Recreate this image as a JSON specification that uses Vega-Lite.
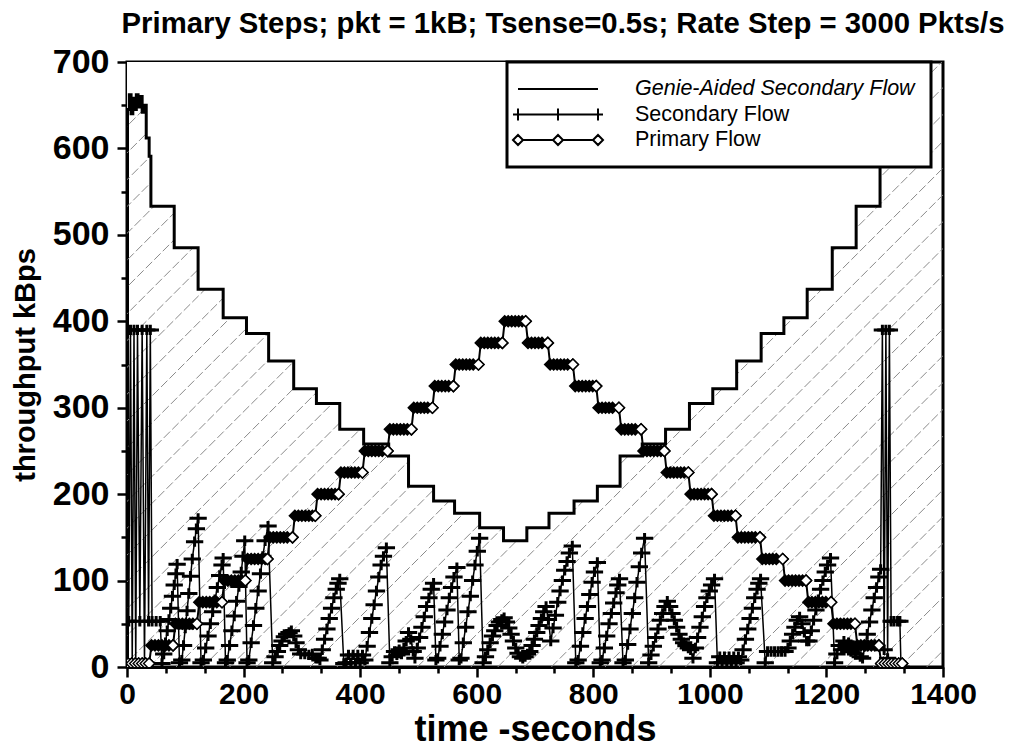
{
  "$schema": "https://vega.github.io/schema/vega-lite/v6.json",
  "width": 816,
  "height": 605,
  "autosize": {"type": "none"},
  "padding": {"left": 127, "top": 62, "right": 68, "bottom": 83},
  "background": "white",
  "title": {"text": "Primary Steps; pkt = 1kB; Tsense=0.5s; Rate Step = 3000 Pkts/s", "font": "Liberation Sans", "fontSize": 29.3, "fontWeight": "bold", "color": "black", "anchor": "middle", "frame": "group", "dx": 28, "offset": 6},
  "resolve": {"axis": {"x": "independent"}},
  "config": {
    "view": {"stroke": "black", "strokeWidth": 3},
    "axis": {"domainColor": "black", "domainWidth": 3, "tickColor": "black", "tickWidth": 2.5, "grid": false, "labelOverlap": false, "labelFont": "Liberation Sans", "labelFontWeight": "bold", "labelFontSize": 31, "labelColor": "black", "titleFont": "Liberation Sans", "titleFontWeight": "bold", "titleFontSize": 30, "titleColor": "black"},
    "legend": {"strokeColor": "black", "strokeWidth": 3, "fillColor": "white"}
  },
  "datasets": {
    "genie": [
      {"t":0,"g":645},{"t":4,"g":662},{"t":7,"g":640},{"t":10,"g":658},{"t":13,"g":645},{"t":16,"g":662},{"t":19,"g":648},{"t":22,"g":660},{"t":26,"g":642},{"t":30,"g":650},{"t":33,"g":612},{"t":38,"g":591},
      {"t":41,"g":533},{"t":81,"g":485},{"t":122,"g":437},{"t":165,"g":404},{"t":205,"g":386},{"t":243,"g":354},{"t":286,"g":322},{"t":325,"g":305},{"t":365,"g":275},{"t":406,"g":258},{"t":449,"g":244},{"t":483,"g":209},{"t":526,"g":192},{"t":562,"g":178},{"t":605,"g":161},{"t":646,"g":146},
      {"t":686,"g":161},{"t":724,"g":178},{"t":767,"g":192},{"t":807,"g":209},{"t":846,"g":244},{"t":884,"g":258},{"t":924,"g":275},{"t":965,"g":305},{"t":1005,"g":322},{"t":1046,"g":354},{"t":1088,"g":386},{"t":1127,"g":404},{"t":1167,"g":437},{"t":1210,"g":485},{"t":1251,"g":533},{"t":1292,"g":600},{"t":1300,"g":650},{"t":1340,"g":700},{"t":1345,"g":700}
    ],
    "primary": [
      {"t":2,"p":4,"e":1},{"t":8,"p":4,"e":1},{"t":14,"p":4,"e":1},{"t":20,"p":4,"e":1},{"t":26,"p":4,"e":1},{"t":32,"p":4,"e":1},{"t":38,"p":4,"e":1},
      {"t":42,"p":25},{"t":48,"p":25},{"t":54,"p":25},{"t":60,"p":25},{"t":66,"p":25},{"t":72,"p":25},{"t":79,"p":25,"e":1},
      {"t":83,"p":50},{"t":89,"p":50},{"t":95,"p":50},{"t":101,"p":50},{"t":107,"p":50},{"t":113,"p":50},{"t":120,"p":50,"e":1},
      {"t":124,"p":75},{"t":130,"p":75},{"t":136,"p":75},{"t":142,"p":75},{"t":148,"p":75},{"t":154,"p":75},{"t":163,"p":75,"e":1},
      {"t":167,"p":100},{"t":173,"p":100},{"t":179,"p":100},{"t":185,"p":100},{"t":191,"p":100},{"t":197,"p":100},{"t":203,"p":100,"e":1},
      {"t":207,"p":125},{"t":213,"p":125},{"t":219,"p":125},{"t":225,"p":125},{"t":231,"p":125},{"t":237,"p":125},{"t":241,"p":125,"e":1},
      {"t":245,"p":150},{"t":251,"p":150},{"t":257,"p":150},{"t":263,"p":150},{"t":269,"p":150},{"t":275,"p":150},{"t":284,"p":150,"e":1},
      {"t":288,"p":175},{"t":294,"p":175},{"t":300,"p":175},{"t":306,"p":175},{"t":312,"p":175},{"t":318,"p":175},{"t":323,"p":175,"e":1},
      {"t":327,"p":200},{"t":333,"p":200},{"t":339,"p":200},{"t":345,"p":200},{"t":351,"p":200},{"t":357,"p":200},{"t":363,"p":200,"e":1},
      {"t":367,"p":225},{"t":373,"p":225},{"t":379,"p":225},{"t":385,"p":225},{"t":391,"p":225},{"t":397,"p":225},{"t":404,"p":225,"e":1},
      {"t":408,"p":250},{"t":414,"p":250},{"t":420,"p":250},{"t":426,"p":250},{"t":432,"p":250},{"t":438,"p":250},{"t":447,"p":250,"e":1},
      {"t":451,"p":275},{"t":457,"p":275},{"t":463,"p":275},{"t":469,"p":275},{"t":475,"p":275},{"t":481,"p":275},{"t":488,"p":275,"e":1},
      {"t":492,"p":300},{"t":498,"p":300},{"t":504,"p":300},{"t":510,"p":300},{"t":516,"p":300},{"t":524,"p":300,"e":1},
      {"t":528,"p":325},{"t":534,"p":325},{"t":540,"p":325},{"t":546,"p":325},{"t":552,"p":325},{"t":560,"p":325,"e":1},
      {"t":564,"p":350},{"t":570,"p":350},{"t":576,"p":350},{"t":582,"p":350},{"t":588,"p":350},{"t":594,"p":350},{"t":603,"p":350,"e":1},
      {"t":607,"p":375},{"t":613,"p":375},{"t":619,"p":375},{"t":625,"p":375},{"t":631,"p":375},{"t":637,"p":375},{"t":644,"p":375,"e":1},
      {"t":648,"p":400},{"t":654,"p":400},{"t":660,"p":400},{"t":666,"p":400},{"t":672,"p":400},{"t":678,"p":400},{"t":684,"p":400,"e":1},
      {"t":688,"p":375},{"t":694,"p":375},{"t":700,"p":375},{"t":706,"p":375},{"t":712,"p":375},{"t":722,"p":375,"e":1},
      {"t":726,"p":350},{"t":732,"p":350},{"t":738,"p":350},{"t":744,"p":350},{"t":750,"p":350},{"t":756,"p":350},{"t":765,"p":350,"e":1},
      {"t":769,"p":325},{"t":775,"p":325},{"t":781,"p":325},{"t":787,"p":325},{"t":793,"p":325},{"t":799,"p":325},{"t":805,"p":325,"e":1},
      {"t":809,"p":300},{"t":815,"p":300},{"t":821,"p":300},{"t":827,"p":300},{"t":833,"p":300},{"t":844,"p":300,"e":1},
      {"t":848,"p":275},{"t":854,"p":275},{"t":860,"p":275},{"t":866,"p":275},{"t":872,"p":275},{"t":882,"p":275,"e":1},
      {"t":886,"p":250},{"t":892,"p":250},{"t":898,"p":250},{"t":904,"p":250},{"t":910,"p":250},{"t":916,"p":250},{"t":922,"p":250,"e":1},
      {"t":926,"p":225},{"t":932,"p":225},{"t":938,"p":225},{"t":944,"p":225},{"t":950,"p":225},{"t":956,"p":225},{"t":963,"p":225,"e":1},
      {"t":967,"p":200},{"t":973,"p":200},{"t":979,"p":200},{"t":985,"p":200},{"t":991,"p":200},{"t":997,"p":200},{"t":1003,"p":200,"e":1},
      {"t":1007,"p":175},{"t":1013,"p":175},{"t":1019,"p":175},{"t":1025,"p":175},{"t":1031,"p":175},{"t":1037,"p":175},{"t":1044,"p":175,"e":1},
      {"t":1048,"p":150},{"t":1054,"p":150},{"t":1060,"p":150},{"t":1066,"p":150},{"t":1072,"p":150},{"t":1078,"p":150},{"t":1086,"p":150,"e":1},
      {"t":1090,"p":125},{"t":1096,"p":125},{"t":1102,"p":125},{"t":1108,"p":125},{"t":1114,"p":125},{"t":1125,"p":125,"e":1},
      {"t":1129,"p":100},{"t":1135,"p":100},{"t":1141,"p":100},{"t":1147,"p":100},{"t":1153,"p":100},{"t":1159,"p":100},{"t":1165,"p":100,"e":1},
      {"t":1169,"p":75},{"t":1175,"p":75},{"t":1181,"p":75},{"t":1187,"p":75},{"t":1193,"p":75},{"t":1199,"p":75},{"t":1208,"p":75,"e":1},
      {"t":1212,"p":50},{"t":1218,"p":50},{"t":1224,"p":50},{"t":1230,"p":50},{"t":1236,"p":50},{"t":1242,"p":50},{"t":1249,"p":50,"e":1},
      {"t":1253,"p":25},{"t":1259,"p":25},{"t":1265,"p":25},{"t":1271,"p":25},{"t":1277,"p":25},{"t":1283,"p":25},{"t":1290,"p":25,"e":1},
      {"t":1294,"p":4,"e":1},{"t":1300,"p":4,"e":1},{"t":1306,"p":4,"e":1},{"t":1312,"p":4,"e":1},{"t":1318,"p":4,"e":1},{"t":1324,"p":4,"e":1},{"t":1330,"p":4,"e":1}
    ],
    "secondary": [
      {"t":0,"s":53},{"t":3,"s":53},{"t":6,"s":390},{"t":9,"s":2},{"t":12,"s":390},{"t":15,"s":2},{"t":18,"s":390},{"t":22,"s":53},{"t":26,"s":390},{"t":30,"s":2},{"t":34,"s":390},{"t":37,"s":53},{"t":40,"s":390},{"t":43,"s":53},{"t":50,"s":53},{"t":57,"s":53},
      {"t":60,"s":4},{"t":63,"s":15},{"t":66,"s":28},{"t":69,"s":42},{"t":72,"s":55},{"t":75,"s":68},{"t":78,"s":82},{"t":81,"s":95},{"t":84,"s":108},{"t":86,"s":119},{"t":90,"s":5},
      {"t":94,"s":8},{"t":97,"s":25},{"t":100,"s":45},{"t":103,"s":65},{"t":106,"s":85},{"t":109,"s":105},{"t":112,"s":125},{"t":116,"s":145},{"t":119,"s":160},{"t":122,"s":172},{"t":127,"s":5},
      {"t":131,"s":8},{"t":135,"s":22},{"t":139,"s":36},{"t":143,"s":50},{"t":147,"s":64},{"t":151,"s":78},{"t":155,"s":92},{"t":159,"s":106},{"t":163,"s":118},{"t":165,"s":126},{"t":169,"s":5},
      {"t":172,"s":8},{"t":176,"s":25},{"t":180,"s":42},{"t":184,"s":59},{"t":188,"s":76},{"t":192,"s":93},{"t":196,"s":110},{"t":199,"s":128},{"t":202,"s":146},{"t":206,"s":5},
      {"t":209,"s":8},{"t":213,"s":28},{"t":217,"s":48},{"t":221,"s":68},{"t":225,"s":88},{"t":229,"s":108},{"t":233,"s":128},{"t":237,"s":146},{"t":242,"s":163},{"t":250,"s":5},
      {"t":254,"s":12},{"t":258,"s":18},{"t":262,"s":25},{"t":266,"s":30},{"t":270,"s":35},{"t":274,"s":38},{"t":278,"s":40},{"t":282,"s":42},{"t":286,"s":36},{"t":290,"s":28},{"t":294,"s":20},{"t":298,"s":15},{"t":305,"s":15},{"t":312,"s":14},{"t":318,"s":15},{"t":324,"s":10},{"t":328,"s":10},
      {"t":331,"s":8},{"t":335,"s":20},{"t":339,"s":32},{"t":343,"s":44},{"t":347,"s":56},{"t":351,"s":68},{"t":355,"s":80},{"t":359,"s":90},{"t":362,"s":97},{"t":365,"s":102},{"t":372,"s":4},
      {"t":376,"s":5},{"t":380,"s":14},{"t":384,"s":5},{"t":388,"s":14},{"t":392,"s":5},{"t":396,"s":14},{"t":400,"s":5},{"t":404,"s":14},
      {"t":408,"s":8},{"t":412,"s":24},{"t":416,"s":40},{"t":420,"s":56},{"t":424,"s":72},{"t":428,"s":88},{"t":432,"s":104},{"t":436,"s":118},{"t":440,"s":128},{"t":445,"s":138},{"t":451,"s":5},
      {"t":455,"s":12},{"t":459,"s":18},{"t":463,"s":14},{"t":467,"s":20},{"t":471,"s":15},{"t":475,"s":22},{"t":479,"s":30},{"t":483,"s":40},{"t":487,"s":32},{"t":491,"s":18},
      {"t":494,"s":10},{"t":498,"s":22},{"t":502,"s":34},{"t":506,"s":46},{"t":510,"s":58},{"t":514,"s":70},{"t":518,"s":80},{"t":522,"s":90},{"t":526,"s":97},{"t":530,"s":8},
      {"t":533,"s":10},{"t":537,"s":24},{"t":541,"s":38},{"t":545,"s":52},{"t":549,"s":66},{"t":553,"s":80},{"t":557,"s":92},{"t":561,"s":104},{"t":566,"s":115},{"t":570,"s":8},
      {"t":573,"s":10},{"t":577,"s":28},{"t":581,"s":46},{"t":585,"s":64},{"t":589,"s":82},{"t":593,"s":100},{"t":597,"s":118},{"t":601,"s":134},{"t":605,"s":149},{"t":611,"s":5},
      {"t":615,"s":12},{"t":619,"s":20},{"t":623,"s":28},{"t":627,"s":36},{"t":631,"s":42},{"t":635,"s":48},{"t":639,"s":52},{"t":643,"s":55},{"t":647,"s":57},{"t":651,"s":52},{"t":655,"s":45},{"t":659,"s":38},{"t":663,"s":30},{"t":667,"s":22},{"t":671,"s":16},{"t":675,"s":12},{"t":679,"s":10},{"t":683,"s":12},{"t":687,"s":15},{"t":691,"s":18},
      {"t":695,"s":25},{"t":699,"s":32},{"t":703,"s":40},{"t":707,"s":48},{"t":711,"s":56},{"t":715,"s":64},{"t":719,"s":70},{"t":723,"s":55},
      {"t":727,"s":30},{"t":731,"s":45},{"t":735,"s":60},{"t":739,"s":75},{"t":743,"s":88},{"t":747,"s":100},{"t":751,"s":112},{"t":755,"s":122},{"t":759,"s":132},{"t":764,"s":140},{"t":770,"s":5},
      {"t":774,"s":8},{"t":778,"s":24},{"t":782,"s":40},{"t":786,"s":56},{"t":790,"s":70},{"t":794,"s":84},{"t":798,"s":98},{"t":802,"s":110},{"t":807,"s":121},{"t":812,"s":5},
      {"t":815,"s":8},{"t":819,"s":22},{"t":823,"s":36},{"t":827,"s":50},{"t":831,"s":62},{"t":835,"s":74},{"t":839,"s":86},{"t":842,"s":95},{"t":845,"s":102},{"t":851,"s":5},
      {"t":855,"s":8},{"t":859,"s":26},{"t":863,"s":44},{"t":867,"s":62},{"t":871,"s":80},{"t":875,"s":98},{"t":879,"s":116},{"t":883,"s":132},{"t":888,"s":149},{"t":895,"s":5},
      {"t":899,"s":14},{"t":903,"s":24},{"t":907,"s":34},{"t":911,"s":44},{"t":915,"s":54},{"t":919,"s":62},{"t":923,"s":70},{"t":927,"s":76},{"t":931,"s":70},{"t":935,"s":62},{"t":939,"s":54},{"t":943,"s":46},{"t":947,"s":38},{"t":951,"s":32},{"t":955,"s":28},{"t":959,"s":25},{"t":963,"s":22},{"t":967,"s":20},
      {"t":971,"s":10},{"t":975,"s":22},{"t":979,"s":34},{"t":983,"s":46},{"t":987,"s":58},{"t":991,"s":70},{"t":995,"s":80},{"t":999,"s":88},{"t":1003,"s":95},{"t":1008,"s":102},{"t":1013,"s":5},
      {"t":1017,"s":12},{"t":1021,"s":5},{"t":1025,"s":12},{"t":1029,"s":5},{"t":1033,"s":12},{"t":1037,"s":5},{"t":1041,"s":12},{"t":1045,"s":5},{"t":1049,"s":12},
      {"t":1053,"s":8},{"t":1057,"s":20},{"t":1061,"s":32},{"t":1065,"s":44},{"t":1069,"s":56},{"t":1073,"s":68},{"t":1077,"s":80},{"t":1081,"s":90},{"t":1084,"s":97},{"t":1087,"s":102},{"t":1095,"s":5},
      {"t":1099,"s":18},{"t":1105,"s":18},{"t":1111,"s":18},{"t":1117,"s":18},{"t":1123,"s":18},{"t":1129,"s":18},
      {"t":1134,"s":22},{"t":1138,"s":30},{"t":1142,"s":38},{"t":1146,"s":46},{"t":1150,"s":54},{"t":1154,"s":58},{"t":1158,"s":50},{"t":1162,"s":40},{"t":1166,"s":30},
      {"t":1170,"s":30},{"t":1174,"s":42},{"t":1178,"s":54},{"t":1182,"s":66},{"t":1186,"s":78},{"t":1190,"s":90},{"t":1194,"s":100},{"t":1198,"s":110},{"t":1202,"s":118},{"t":1207,"s":126},{"t":1214,"s":5},
      {"t":1218,"s":15},{"t":1222,"s":25},{"t":1226,"s":20},{"t":1230,"s":30},{"t":1234,"s":22},{"t":1238,"s":28},{"t":1242,"s":18},{"t":1246,"s":25},{"t":1250,"s":15},{"t":1254,"s":22},{"t":1258,"s":12},
      {"t":1262,"s":10},{"t":1266,"s":24},{"t":1270,"s":38},{"t":1274,"s":52},{"t":1278,"s":66},{"t":1282,"s":80},{"t":1286,"s":92},{"t":1290,"s":104},{"t":1293,"s":113},
      {"t":1296,"s":390},{"t":1299,"s":20},{"t":1302,"s":390},{"t":1305,"s":10},{"t":1308,"s":390},{"t":1311,"s":53},{"t":1316,"s":53},{"t":1322,"s":53},{"t":1326,"s":53},{"t":1328,"s":0}
    ],
    "hatch": [
      {"a":-1020,"b":18},{"a":-974,"b":64},{"a":-928,"b":110},{"a":-882,"b":156},{"a":-836,"b":202},{"a":-790,"b":248},{"a":-744,"b":294},{"a":-698,"b":340},{"a":-652,"b":386},{"a":-606,"b":432},{"a":-560,"b":478},{"a":-514,"b":524},{"a":-468,"b":570},{"a":-422,"b":616},{"a":-376,"b":662},{"a":-330,"b":708},{"a":-284,"b":754},{"a":-238,"b":800},{"a":-192,"b":846},{"a":-146,"b":892},{"a":-100,"b":938},{"a":-54,"b":984},{"a":-8,"b":1030},{"a":38,"b":1076},{"a":84,"b":1122},{"a":130,"b":1168},{"a":176,"b":1214},{"a":222,"b":1260},{"a":268,"b":1306},{"a":314,"b":1352},{"a":360,"b":1398},{"a":406,"b":1444},{"a":452,"b":1490},{"a":498,"b":1536},{"a":544,"b":1582},{"a":590,"b":1628},{"a":636,"b":1674},{"a":682,"b":1720},{"a":728,"b":1766},{"a":774,"b":1812},{"a":820,"b":1858},{"a":866,"b":1904},{"a":912,"b":1950},{"a":958,"b":1996},{"a":1004,"b":2042},{"a":1050,"b":2088},{"a":1096,"b":2134},{"a":1142,"b":2180},{"a":1188,"b":2226},{"a":1234,"b":2272},{"a":1280,"b":2318},{"a":1326,"b":2364},{"a":1372,"b":2410}
    ],
    "legend": [
      {"series": "Genie-Aided Secondary Flow"},{"series": "Secondary Flow"},{"series": "Primary Flow"}
    ]
  },
  "layer": [
    {
      "data": {"name": "hatch"},
      "mark": {"type": "rule", "clip": true, "stroke": "#8a8a8a", "strokeWidth": 1, "strokeDash": [9, 3]},
      "encoding": {
        "x": {"field": "a", "type": "quantitative", "scale": {"domain": [0, 1400], "nice": false},
          "axis": {"title": "time -seconds", "orient": "bottom", "titleFontSize": 36, "titlePadding": 3, "labelFontSize": 30,
            "values": [0, 200, 400, 600, 800, 1000, 1200, 1400],
            "format": "d", "labelPadding": 2, "labelFlush": false, "labelOverlap": false, "tickSize": 10}},
        "x2": {"field": "b"},
        "y": {"datum": 0, "type": "quantitative", "scale": {"domain": [0, 700], "nice": false},
          "axis": {"title": "throughput kBps", "titleFontSize": 29, "titlePadding": 12, "labelFontSize": 34, "values": [0, 50, 100, 150, 200, 250, 300, 350, 400, 450, 500, 550, 600, 650, 700],
            "labelExpr": "datum.value % 100 == 0 ? datum.label : ''", "labelPadding": 8, "labelFlush": false, "labelOverlap": false,
            "tickSize": {"condition": {"test": "datum.value % 100 == 0", "value": 10}, "value": 6}}},
        "y2": {"datum": 700}
      }
    },
    {
      "data": {"name": "genie"},
      "mark": {"type": "area", "interpolate": "step-after", "fill": "white", "clip": true},
      "encoding": {
        "x": {"field": "t", "type": "quantitative", "axis": null},
        "y": {"field": "g", "type": "quantitative"},
        "y2": {"datum": 700}
      }
    },
    {
      "data": {"name": "genie"},
      "mark": {"type": "line", "interpolate": "step-after", "stroke": "black", "strokeWidth": 3, "clip": true},
      "encoding": {
        "x": {"field": "t", "type": "quantitative", "axis": null},
        "y": {"field": "g", "type": "quantitative"}
      }
    },
    {
      "data": {"name": "secondary"},
      "mark": {"type": "line", "stroke": "black", "strokeWidth": 1.5, "clip": true},
      "encoding": {
        "x": {"field": "t", "type": "quantitative", "axis": null},
        "y": {"field": "s", "type": "quantitative"}
      }
    },
    {
      "data": {"name": "secondary"},
      "mark": {"type": "point", "shape": "M-1,0H1M0,-0.6V0.6", "filled": false, "stroke": "black", "strokeWidth": 3, "size": 300, "opacity": 1, "clip": true},
      "encoding": {
        "x": {"field": "t", "type": "quantitative", "axis": null},
        "y": {"field": "s", "type": "quantitative"}
      }
    },
    {
      "data": {"name": "primary"},
      "mark": {"type": "line", "stroke": "black", "strokeWidth": 2, "clip": true},
      "encoding": {
        "x": {"field": "t", "type": "quantitative", "axis": null},
        "y": {"field": "p", "type": "quantitative"}
      }
    },
    {
      "data": {"name": "primary"},
      "mark": {"type": "point", "shape": "diamond", "filled": true, "fill": "black", "stroke": "black", "strokeWidth": 1.5, "size": 121, "opacity": 1, "clip": true},
      "encoding": {
        "x": {"field": "t", "type": "quantitative", "axis": null},
        "y": {"field": "p", "type": "quantitative"}
      }
    },
    {
      "data": {"name": "primary"},
      "transform": [{"filter": "datum.e == 1"}],
      "mark": {"type": "point", "shape": "diamond", "filled": true, "fill": "white", "stroke": "black", "strokeWidth": 1.5, "size": 121, "opacity": 1, "clip": true},
      "encoding": {
        "x": {"field": "t", "type": "quantitative", "axis": null},
        "y": {"field": "p", "type": "quantitative"}
      }
    },
    {
      "data": {"name": "legend"},
      "mark": {"type": "point", "filled": false, "color": "black", "stroke": "black", "strokeWidth": 2, "opacity": 1, "clip": true},
      "encoding": {
        "x": {"datum": -500, "type": "quantitative",
          "axis": {"orient": "bottom", "title": null, "domain": false, "labels": false, "ticks": true, "tickSize": 6, "tickWidth": 2.5, "tickColor": "black",
            "values": [66.667, 133.333, 266.667, 333.333, 466.667, 533.333, 666.667, 733.333, 866.667, 933.333, 1066.667, 1133.333, 1266.667, 1333.333]}},
        "y": {"datum": -500, "type": "quantitative"},
        "shape": {"field": "series", "type": "nominal",
          "scale": {"domain": ["Genie-Aided Secondary Flow", "Secondary Flow", "Primary Flow"],
            "range": ["M-4,0H4", "M-4.5,0H4.5M-4,-0.6V0.6M0,-0.6V0.6M4,-0.6V0.6", "M-4.5,0L-4,-0.5L-3.5,0L-4,0.5ZM-3.5,0H-0.5M-0.5,0L0,-0.5L0.5,0L0,0.5ZM0.5,0H3.5M3.5,0L4,-0.5L4.5,0L4,0.5Z"]},
          "legend": {"title": null, "orient": "none", "legendX": 380, "legendY": 0, "padding": 16, "rowPadding": 3.5,
            "symbolSize": 400, "symbolOffset": 24, "labelOffset": 66, "symbolOpacity": 1, "symbolStrokeColor": "black", "symbolStrokeWidth": 2,
            "labelFont": "Liberation Sans", "labelFontSize": 21.5, "labelColor": "black", "labelLimit": 400,
            "labelFontStyle": {"expr": "datum.label === 'Genie-Aided Secondary Flow' ? 'italic' : 'normal'"}}}
      }
    }
  ]
}
